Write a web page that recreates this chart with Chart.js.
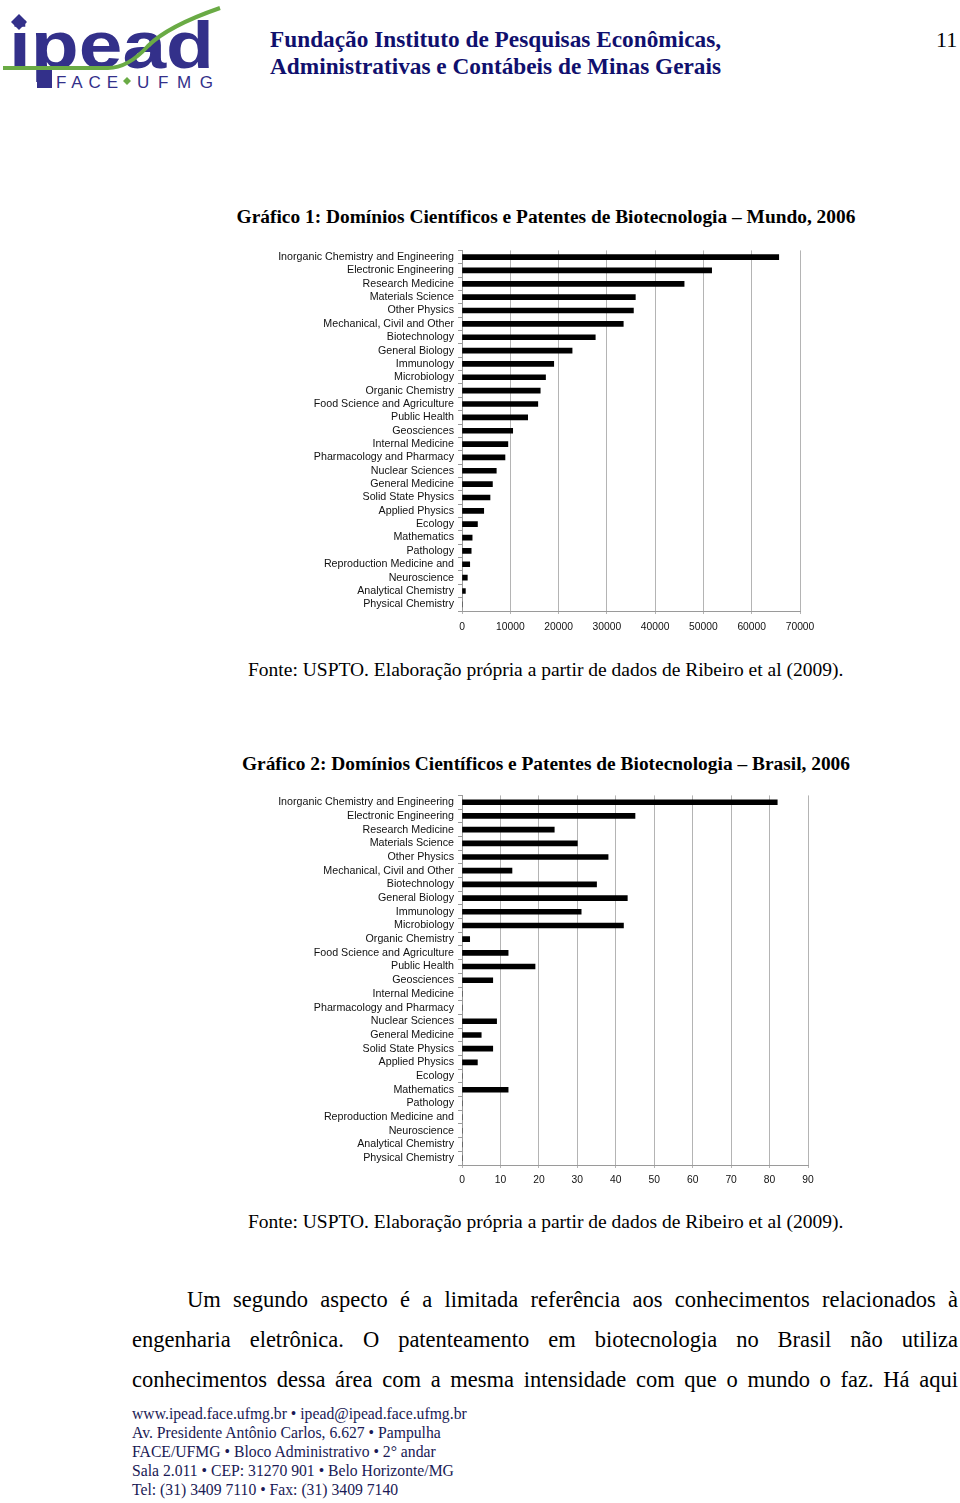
<!DOCTYPE html>
<html>
<head>
<meta charset="utf-8">
<script src="https://cdn.jsdelivr.net/npm/chart.js@4"></script>
<style>
  html,body{margin:0;padding:0;background:#fff;}
  body{width:960px;height:1503px;position:relative;overflow:hidden;font-family:"Liberation Serif","Times New Roman",serif;}
  .abs{position:absolute;white-space:nowrap;}
  .hdr{color:#10106e;font-weight:bold;font-size:23.3px;line-height:26px;}
  .title{font-weight:bold;font-size:19.4px;line-height:22px;color:#000;left:0;width:1092px;text-align:center;}
  .fonte{font-size:19.5px;line-height:22px;color:#000;}
  .para{position:absolute;left:132px;width:826px;font-size:22.5px;line-height:26px;text-align:justify;text-align-last:justify;white-space:normal;color:#000;}
  .foot{font-size:15.7px;line-height:19px;color:#1a1a55;}
  .chartbox{position:absolute;}
</style>
</head>
<body>
<svg class="abs" style="left:0;top:0" width="230" height="95" viewBox="0 0 230 95">
  <g fill="#33308a">
    <polygon points="19,14 27,22 19,30 11,22"/>
    <text x="9" y="68" font-family="Liberation Sans, Arial, sans-serif" font-weight="bold" font-size="66" textLength="205" lengthAdjust="spacingAndGlyphs">ipead</text>
    <rect x="37" y="66" width="15" height="22"/>
    <text x="56" y="88" font-family="Liberation Sans, Arial, sans-serif" font-size="17" textLength="62" lengthAdjust="spacing">FACE</text>
    <text x="137" y="88" font-family="Liberation Sans, Arial, sans-serif" font-size="17" textLength="76" lengthAdjust="spacing">UFMG</text>
  </g>
  <polygon points="127,77 131,81 127,85 123,81" fill="#6aab45"/>
  <path d="M3 68 L108 68 Q128 68 148 46 Q168 26 220 8" fill="none" stroke="#6aab45" stroke-width="4"/>
</svg>

<div class="abs hdr" style="left:270px;top:26px">Fundação Instituto de Pesquisas Econômicas,</div>
<div class="abs hdr" style="left:270px;top:53px">Administrativas e Contábeis de Minas Gerais</div>
<div class="abs" style="left:936px;top:27px;font-size:22px;line-height:26px;">11</div>

<div class="abs title" style="top:206px">Gráfico 1: Domínios Científicos e Patentes de Biotecnologia – Mundo, 2006</div>
<div class="chartbox" style="left:270px;top:240px;width:560px;height:400px"><canvas id="c1"></canvas></div>
<div class="abs fonte" style="left:248px;top:659px">Fonte: USPTO. Elaboração própria a partir de dados de Ribeiro et al (2009).</div>

<div class="abs title" style="top:753px">Gráfico 2: Domínios Científicos e Patentes de Biotecnologia – Brasil, 2006</div>
<div class="chartbox" style="left:270px;top:785px;width:560px;height:409px"><canvas id="c2"></canvas></div>
<div class="abs fonte" style="left:248px;top:1211px">Fonte: USPTO. Elaboração própria a partir de dados de Ribeiro et al (2009).</div>

<div class="para" style="top:1287px;left:187px;width:771px">Um segundo aspecto é a limitada referência aos conhecimentos relacionados à</div>
<div class="para" style="top:1327px">engenharia eletrônica. O patenteamento em biotecnologia no Brasil não utiliza</div>
<div class="para" style="top:1367px">conhecimentos dessa área com a mesma intensidade com que o mundo o faz. Há aqui</div>

<div class="abs foot" style="left:132px;top:1404px">www.ipead.face.ufmg.br • ipead@ipead.face.ufmg.br</div>
<div class="abs foot" style="left:132px;top:1423px">Av. Presidente Antônio Carlos, 6.627 • Pampulha</div>
<div class="abs foot" style="left:132px;top:1442px">FACE/UFMG • Bloco Administrativo • 2° andar</div>
<div class="abs foot" style="left:132px;top:1461px">Sala 2.011 • CEP: 31270 901 • Belo Horizonte/MG</div>
<div class="abs foot" style="left:132px;top:1480px">Tel: (31) 3409 7110 • Fax: (31) 3409 7140</div>

<script>
const categories = [
  "Inorganic Chemistry and Engineering","Electronic Engineering","Research Medicine",
  "Materials Science","Other Physics","Mechanical, Civil and Other","Biotechnology",
  "General Biology","Immunology","Microbiology","Organic Chemistry",
  "Food Science and Agriculture","Public Health","Geosciences","Internal Medicine",
  "Pharmacology and Pharmacy","Nuclear Sciences","General Medicine","Solid State Physics",
  "Applied Physics","Ecology","Mathematics","Pathology","Reproduction Medicine and",
  "Neuroscience","Analytical Chemistry","Physical Chemistry"
];
const mundoValues = [65600,51700,46000,35900,35500,33400,27600,22800,19000,17300,16200,
  15700,13600,10500,9500,8900,7100,6300,5800,4500,3200,2100,1900,1600,1100,700,0];
const brasilValues = [82,45,24,30,38,13,35,43,31,42,2,12,19,8,0,0,9,5,8,4,0,12,0,0,0,0,0];
const mundoTicks = {min:0,max:70000,step:10000};
const brasilTicks = {min:0,max:90,step:10};

Chart.defaults.font.family = '"Liberation Sans", Arial, sans-serif';
Chart.defaults.color = '#111';
Chart.defaults.animation = false;

function makeChart(id, values, tk, pad, tpad){
  return new Chart(document.getElementById(id), {
    type:'bar',
    data:{labels:categories, datasets:[{data:values, backgroundColor:'#000', borderWidth:0, barThickness:5}]},
    options:{
      indexAxis:'y', responsive:true, maintainAspectRatio:false,
      layout:{padding:pad},
      plugins:{legend:{display:false}, tooltip:{enabled:false}},
      scales:{
        x:{min:tk.min,max:tk.max,
           ticks:{stepSize:tk.step,font:{size:10.3},color:'#111',padding:tpad,maxRotation:0,
                  callback:v=>String(v)},
           grid:{color:'#b4b4b4',lineWidth:1,tickLength:3,drawTicks:true},
           border:{display:true,color:'#9a9a9a'},
           afterFit:s=>{s.height=29;}},
        y:{ticks:{font:{size:10.7},color:'#111',padding:4,autoSkip:false},
           grid:{offset:true,drawOnChartArea:false,tickLength:4,color:'#9a9a9a'},
           border:{display:true,color:'#9a9a9a'},
           afterFit:s=>{s.width=192;}}
      }
    }
  });
}
makeChart('c1', mundoValues, mundoTicks, {top:8,right:30,left:0,bottom:0}, 7);
makeChart('c2', brasilValues, brasilTicks, {top:10,right:22,left:0,bottom:0}, 6);
</script>
</body>
</html>
